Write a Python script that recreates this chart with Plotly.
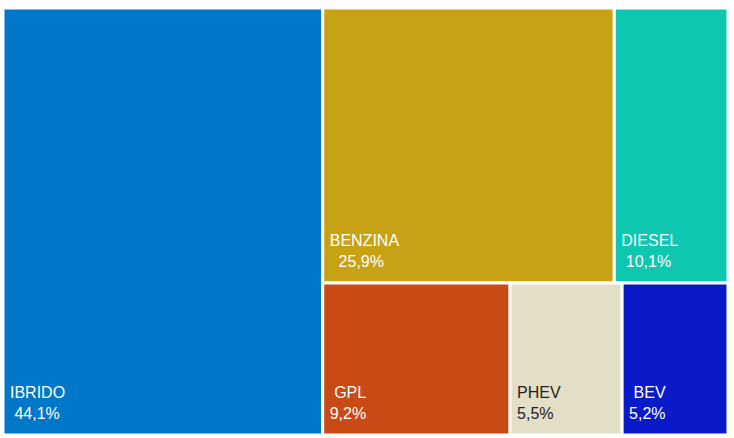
import plotly.graph_objects as go

categorie = ["IBRIDO", "BENZINA", "DIESEL", "GPL", "PHEV", "BEV"]
quote = [44.1, 25.9, 10.1, 9.2, 5.5, 5.2]
gruppi = ["tutti", "sopra", "sopra", "sotto", "sotto", "sotto"]
etichette_quota = ["\u00a044,1%", "\u00a0\u00a025,9%", "\u00a010,1%", "9,2%", "5,5%", "5,2%"]
etichette_nome = ["IBRIDO", "BENZINA", "DIESEL", "\u00a0GPL", "PHEV", "\u00a0BEV"]
colori = ["#0077c8", "#c7a214", "#0dc7b0", "#c94a14", "#e3dfc6", "#0b1ac9"]
colori_testo = ["white", "white", "white", "white", "#222222", "white"]

# gruppi invisibili per ottenere la disposizione del riquadro originale
sopra = sum(v for v, g in zip(quote, gruppi) if g == "sopra")
sotto = sum(v for v, g in zip(quote, gruppi) if g == "sotto")

ids, parents, values, testi, colors, text_colors = [], [], [], [], [], []

def aggiungi(i, p, v, t="", c="white", tc="white"):
    ids.append(i)
    parents.append(p)
    values.append(v)
    testi.append(t)
    colors.append(c)
    text_colors.append(tc)

aggiungi("tutti", "", sum(quote))
for k, cat in enumerate(categorie):
    if cat == "BENZINA":
        aggiungi("resto", "tutti", sopra + sotto)
        aggiungi("sopra", "resto", sopra)
    if cat == "GPL":
        aggiungi("sotto", "resto", sotto)
    aggiungi(cat, gruppi[k], quote[k],
             etichette_nome[k] + "<br>" + etichette_quota[k],
             colori[k], colori_testo[k])

fig = go.Figure(go.Treemap(
    ids=ids,
    labels=ids,
    parents=parents,
    values=values,
    branchvalues="total",
    text=testi,
    texttemplate="%{text}",
    textposition="bottom left",
    textfont=dict(family="Liberation Sans", size=16, color=text_colors),
    marker=dict(colors=colors, line=dict(color="white", width=3),
                pad=dict(t=0, l=0, r=0, b=0)),
    tiling=dict(pad=0),
    pathbar=dict(visible=False),
    hoverinfo="label+value",
    sort=False,
))

fig.update_layout(
    width=734,
    height=438,
    margin=dict(l=3, r=6, t=8, b=3),
    paper_bgcolor="white",
)

# niente margine della pagina, etichette un po' staccate dal bordo
js = """
document.body.style.margin='0';
document.querySelectorAll('.slicetext').forEach(function(t){
    t.setAttribute('transform', 'translate(2,-5) ' + (t.getAttribute('transform') || ''));
});
"""
fig.write_html("out.html", post_script=js, config={"displayModeBar": False})
